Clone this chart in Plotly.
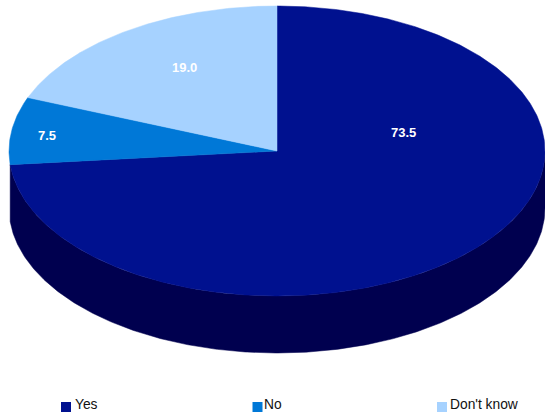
import numpy as np
import plotly.graph_objects as go

# Survey responses, in percent
categories = ["Yes", "No", "Don't know"]
shares = [73.5, 7.5, 19.0]
slice_colors = ["#00118F", "#0078D7", "#A6D2FF"]
side_color = "#00004F"

# Geometry of the tilted pie, in page pixels
CX, CY, RX, RY, DEPTH = 277, 151, 268, 145, 57
label_xy = [(403, 132), (47, 135), (184, 67)]
key_swatch_x = [61, 252.5, 437]
key_text_x = [75, 264, 450]


def rim(start, stop):
    """Points on the ellipse between two clockwise angles measured from 12 o'clock."""
    a = np.radians(np.linspace(start, stop, max(int(abs(stop - start) * 2), 2)))
    return CX + RX * np.sin(a), CY - RY * np.cos(a)


fig = go.Figure()

# Cut edges in degrees, from the cumulative shares
edges = np.concatenate([[0], np.cumsum(shares)]) * 360 / sum(shares)

# Front wall: only the part of the first slice that faces the viewer
wall_x, wall_y = rim(90, edges[1])
fig.add_trace(go.Scatter(
    x=np.concatenate([wall_x, wall_x[::-1]]),
    y=np.concatenate([wall_y, wall_y[::-1] + DEPTH]),
    fill="toself", fillcolor=side_color, mode="lines",
    line=dict(color=side_color, width=0.5), hoverinfo="skip", showlegend=False,
))

# Top faces
for name, value, color, a0, a1 in zip(categories, shares, slice_colors, edges[:-1], edges[1:]):
    x, y = rim(a0, a1)
    fig.add_trace(go.Scatter(
        x=np.concatenate([[CX], x, [CX]]),
        y=np.concatenate([[CY], y, [CY]]),
        fill="toself", fillcolor=color, mode="lines",
        line=dict(color=color, width=0.5), name=name, text=f"{name}: {value}",
        hoverinfo="text", showlegend=False,
    ))

# Value labels
for value, (lx, ly) in zip(shares, label_xy):
    fig.add_annotation(x=lx, y=ly, text=f"<b>{value:.1f}</b>", showarrow=False,
                       font=dict(family="Liberation Sans", size=13, color="white"))

# Key along the bottom
fig.add_trace(go.Scatter(
    x=[v + 5 for v in key_swatch_x], y=[407] * 3, mode="markers",
    marker=dict(symbol="square", size=10, color=slice_colors, line=dict(width=0)),
    hoverinfo="skip", showlegend=False,
))
for name, lx in zip(categories, key_text_x):
    fig.add_annotation(x=lx, y=404.5, text=name, showarrow=False, xanchor="left",
                       xshift=-2, font=dict(family="Liberation Sans", size=13.8, color="#111111"))

fig.update_layout(
    width=545, height=416, margin=dict(l=0, r=0, t=0, b=0),
    paper_bgcolor="white", plot_bgcolor="white", showlegend=False,
    xaxis=dict(range=[0, 545], visible=False, fixedrange=True),
    yaxis=dict(range=[416, 0], visible=False, fixedrange=True),
)

fig.write_html("out.html", config={"displayModeBar": False})
